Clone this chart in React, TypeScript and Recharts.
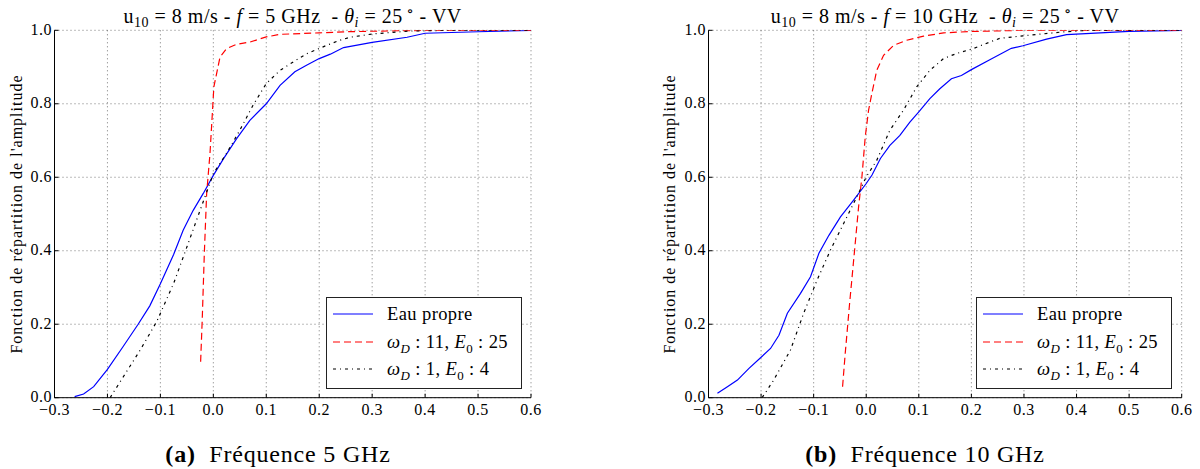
import React from 'react';
import { LineChart, Line, XAxis, YAxis, CartesianGrid, Legend } from 'recharts';

const FONT = '"Liberation Serif", "DejaVu Serif", serif';

const xTicks = [-0.3, -0.2, -0.1, 0, 0.1, 0.2, 0.3, 0.4, 0.5, 0.6];
const yTicks = [0, 0.2, 0.4, 0.6, 0.8, 1.0];

// 5 GHz
const eauPropre5: [number, number][] = [
  [-0.262, 0.003], [-0.245, 0.01], [-0.226, 0.03], [-0.2, 0.077], [-0.17, 0.14], [-0.142, 0.2],
  [-0.12, 0.25], [-0.1, 0.31], [-0.075, 0.39], [-0.057, 0.456], [-0.038, 0.51], [-0.019, 0.556],
  [0.0, 0.605], [0.019, 0.65], [0.044, 0.705], [0.069, 0.755], [0.1, 0.8], [0.126, 0.85],
  [0.154, 0.887], [0.176, 0.905], [0.2, 0.923], [0.221, 0.935], [0.246, 0.953], [0.3, 0.967],
  [0.366, 0.981], [0.4, 0.992], [0.5, 0.996], [0.6, 1.0],
];
const wd11E25_5: [number, number][] = [
  [-0.024, 0.098], [-0.021, 0.211], [-0.017, 0.393], [-0.0126, 0.556], [-0.0063, 0.665],
  [-0.0019, 0.773], [0.001, 0.846], [0.0126, 0.927], [0.025, 0.95], [0.044, 0.962], [0.069, 0.968],
  [0.1, 0.982], [0.126, 0.989], [0.2, 0.993], [0.25, 0.996], [0.35, 0.999], [0.45, 1.0], [0.6, 1.0],
];
const wd1E4_5: [number, number][] = [
  [-0.195, 0.0], [-0.17, 0.057], [-0.138, 0.13], [-0.107, 0.207], [-0.075, 0.311], [-0.05, 0.41],
  [-0.025, 0.51], [0.0, 0.61], [0.025, 0.665], [0.05, 0.728], [0.075, 0.796], [0.1, 0.855],
  [0.126, 0.891], [0.151, 0.914], [0.176, 0.936], [0.214, 0.959], [0.239, 0.973], [0.258, 0.981],
  [0.3, 0.99], [0.37, 0.998], [0.45, 1.0], [0.6, 1.0],
];

// 10 GHz
const eauPropre10: [number, number][] = [
  [-0.283, 0.012], [-0.264, 0.03], [-0.245, 0.048], [-0.223, 0.08], [-0.2, 0.11], [-0.182, 0.134],
  [-0.166, 0.17], [-0.15, 0.23], [-0.125, 0.284], [-0.106, 0.329], [-0.09, 0.393], [-0.071, 0.442],
  [-0.049, 0.492], [-0.024, 0.538], [0.0, 0.583], [0.011, 0.606], [0.027, 0.651], [0.045, 0.687],
  [0.064, 0.714], [0.083, 0.75], [0.1, 0.778], [0.121, 0.814], [0.14, 0.841], [0.162, 0.868],
  [0.181, 0.877], [0.2, 0.893], [0.235, 0.92], [0.276, 0.951], [0.298, 0.958], [0.343, 0.976],
  [0.381, 0.988], [0.5, 0.997], [0.6, 1.0],
];
const wd11E25_10: [number, number][] = [
  [-0.045, 0.03], [-0.04, 0.12], [-0.0316, 0.257], [-0.0227, 0.393], [-0.0145, 0.52], [-0.0082, 0.601],
  [-0.0019, 0.71], [0.0044, 0.782], [0.0107, 0.828], [0.02, 0.891], [0.033, 0.932], [0.052, 0.959],
  [0.077, 0.973], [0.109, 0.984], [0.147, 0.993], [0.203, 0.997], [0.3, 1.0], [0.6, 1.0],
];
const wd1E4_10: [number, number][] = [
  [-0.198, 0.0], [-0.176, 0.048], [-0.144, 0.13], [-0.119, 0.23], [-0.0935, 0.32], [-0.068, 0.402],
  [-0.043, 0.474], [-0.0177, 0.547], [0.0, 0.601], [0.02, 0.646], [0.045, 0.728], [0.071, 0.783],
  [0.096, 0.846], [0.121, 0.891], [0.147, 0.923], [0.172, 0.937], [0.203, 0.95], [0.235, 0.968],
  [0.254, 0.978], [0.298, 0.985], [0.37, 0.995], [0.42, 1.0], [0.6, 1.0],
];

const seriesStyles = [
  { key: 'eau', color: '#0000ff', dash: undefined as string | undefined },
  { key: 'wd11', color: '#ff0000', dash: '7 4' },
  { key: 'wd1', color: '#000000', dash: '3 4 1 4' },
];

const toPts = (a: [number, number][]) => a.map(([x, y]) => ({ x, y }));
const fmt = (v: number) => (v < -1e-9 ? '\u2212' : '') + Math.abs(v).toFixed(1);

const TICK_FS = 16;

const BottomTick = (p: any) => {
  const { x, y, payload } = p;
  return (
    <g>
      <line x1={x} x2={x} y1={y} y2={y - 4} stroke="#000" />
      <text x={x} y={y + 17} textAnchor="middle" fontFamily={FONT} fontSize={TICK_FS} letterSpacing={0.5} fill="#000">
        {fmt(payload.value)}
      </text>
    </g>
  );
};
const TopTick = (p: any) => {
  const { x, y } = p;
  return <line x1={x} x2={x} y1={y} y2={y + 4} stroke="#000" />;
};
const LeftTick = (p: any) => {
  const { x, y, payload } = p;
  return (
    <g>
      <line x1={x} x2={x + 4} y1={y} y2={y} stroke="#000" />
      <text x={x - 2.5} y={y + 4.5} textAnchor="end" fontFamily={FONT} fontSize={TICK_FS} letterSpacing={0.5} fill="#000">
        {fmt(payload.value)}
      </text>
    </g>
  );
};
const RightTick = (p: any) => {
  const { x, y } = p;
  return <line x1={x} x2={x - 4} y1={y} y2={y} stroke="#000" />;
};

const sub: React.CSSProperties = { fontSize: '0.7em', verticalAlign: '-0.35em', lineHeight: 0 };

const LegendLabel = ({ i }: { i: number }) => {
  if (i === 0) return <span>Eau propre</span>;
  if (i === 1)
    return (
      <span>
        <i>ω</i><span style={sub}><i>D</i></span> : 11, <i>E</i><span style={sub}>0</span> : 25
      </span>
    );
  return (
    <span>
      <i>ω</i><span style={sub}><i>D</i></span> : 1, <i>E</i><span style={sub}>0</span> : 4
    </span>
  );
};

const LegendBox = () => (
  <div
    style={{
      width: 196,
      height: 92,
      border: '1px solid #222',
      background: '#fff',
      boxSizing: 'border-box',
      position: 'relative',
      fontFamily: FONT,
      fontSize: 18.5,
      letterSpacing: 0.4,
      color: '#000',
    }}
  >
    {seriesStyles.map((s, i) => (
      <div key={s.key} style={{ position: 'absolute', left: 0, top: 16 + i * 27.5 - 11, height: 22, width: 196 }}>
        <svg width={44} height={22} style={{ position: 'absolute', left: 6, top: 0 }}>
          <line x1={0} x2={40} y1={11} y2={11} stroke={s.color} strokeWidth={1.2} strokeDasharray={s.dash} />
        </svg>
        <div style={{ position: 'absolute', left: 60, top: 0, lineHeight: '22px', whiteSpace: 'nowrap' }}>
          <LegendLabel i={i} />
        </div>
      </div>
    ))}
  </div>
);

type PanelProps = {
  left: number;
  yAxisWidth: number;
  rightMargin: number;
  legendLeft: number;
  data: [number, number][][];
};

const Panel = ({ left, yAxisWidth, rightMargin, legendLeft, data }: PanelProps) => (
  <div style={{ position: 'absolute', left, top: 0 }}>
    <LineChart width={600} height={469} margin={{ top: 30.3, right: rightMargin, bottom: 0, left: 0 }}>
      <CartesianGrid stroke="#555" strokeDasharray="1 3" strokeWidth={0.8} />
      <XAxis
        dataKey="x"
        type="number"
        domain={[-0.3, 0.6]}
        ticks={xTicks}
        interval={0}
        allowDataOverflow
        height={71.3}
        tickSize={0}
        tickMargin={0}
        tickLine={false}
        axisLine={{ stroke: '#000' }}
        tick={<BottomTick />}
      />
      <XAxis
        xAxisId="top"
        orientation="top"
        dataKey="x"
        type="number"
        domain={[-0.3, 0.6]}
        ticks={xTicks}
        interval={0}
        height={0}
        tickSize={0}
        tickMargin={0}
        tickLine={false}
        axisLine={{ stroke: '#000' }}
        tick={<TopTick />}
      />
      <YAxis
        type="number"
        domain={[0, 1]}
        ticks={yTicks}
        interval={0}
        allowDataOverflow
        width={yAxisWidth}
        tickSize={0}
        tickMargin={0}
        tickLine={false}
        axisLine={{ stroke: '#000' }}
        tick={<LeftTick />}
      />
      <YAxis
        yAxisId="right"
        orientation="right"
        type="number"
        domain={[0, 1]}
        ticks={yTicks}
        interval={0}
        width={0}
        tickSize={0}
        tickMargin={0}
        tickLine={false}
        axisLine={{ stroke: '#000' }}
        tick={<RightTick />}
      />
      {seriesStyles.map((s, i) => (
        <Line
          key={s.key}
          data={toPts(data[i])}
          dataKey="y"
          type="linear"
          stroke={s.color}
          strokeWidth={1.2}
          strokeDasharray={s.dash}
          dot={false}
          activeDot={false}
          isAnimationActive={false}
        />
      ))}
      <Legend
        layout="vertical"
        align="center"
        verticalAlign="middle"
        content={() => <LegendBox />}
        wrapperStyle={{ left: legendLeft, top: 297, width: 196, height: 92 }}
      />
    </LineChart>
  </div>
);

const subT: React.CSSProperties = { fontSize: '0.7em', verticalAlign: '-0.3em', lineHeight: 0 };

const Title = ({ cx, freq }: { cx: number; freq: string }) => (
  <div
    style={{
      position: 'absolute',
      left: cx - 250,
      width: 500,
      top: 4,
      lineHeight: '24px',
      textAlign: 'center',
      fontFamily: FONT,
      fontSize: 20,
      letterSpacing: 0.5,
      color: '#000',
      whiteSpace: 'nowrap',
    }}
  >
    u<span style={subT}>10</span> = 8 m/s - <i>f</i> = {freq} GHz&nbsp; - <i>θ</i>
    <span style={subT}><i>i</i></span> = 25<span style={{ fontSize: '0.75em', verticalAlign: '0.45em', lineHeight: 0 }}>&thinsp;∘</span> - VV
  </div>
);

const YLabel = ({ cx }: { cx: number }) => (
  <div
    style={{
      position: 'absolute',
      left: cx,
      top: 214,
      transform: 'translate(-50%, -50%) rotate(-90deg)',
      fontFamily: FONT,
      fontSize: 16,
      letterSpacing: 1,
      whiteSpace: 'nowrap',
      color: '#000',
    }}
  >
    Fonction de répartition de l'amplitude
  </div>
);

const Caption = ({ cx, letter, freq }: { cx: number; letter: string; freq: string }) => (
  <div
    style={{
      position: 'absolute',
      left: cx - 200,
      width: 400,
      top: 440,
      lineHeight: '28px',
      textAlign: 'center',
      fontFamily: FONT,
      fontSize: 24,
      letterSpacing: 0.8,
      color: '#000',
      whiteSpace: 'nowrap',
    }}
  >
    <b>({letter})</b>&nbsp; Fréquence {freq} GHz
  </div>
);

export default function App() {
  return (
    <div style={{ position: 'absolute', left: 0, top: 0, width: 1200, height: 469, background: '#fff', overflow: 'hidden' }}>
      <Panel left={0} yAxisWidth={54.5} rightMargin={69} legendLeft={326} data={[eauPropre5, wd11E25_5, wd1E4_5]} />
      <Panel left={600} yAxisWidth={108.5} rightMargin={18.3} legendLeft={376} data={[eauPropre10, wd11E25_10, wd1E4_10]} />
      <Title cx={292.7} freq="5" />
      <Title cx={945} freq="10" />
      <YLabel cx={17} />
      <YLabel cx={670} />
      <Caption cx={278} letter="a" freq="5" />
      <Caption cx={925} letter="b" freq="10" />
    </div>
  );
}
